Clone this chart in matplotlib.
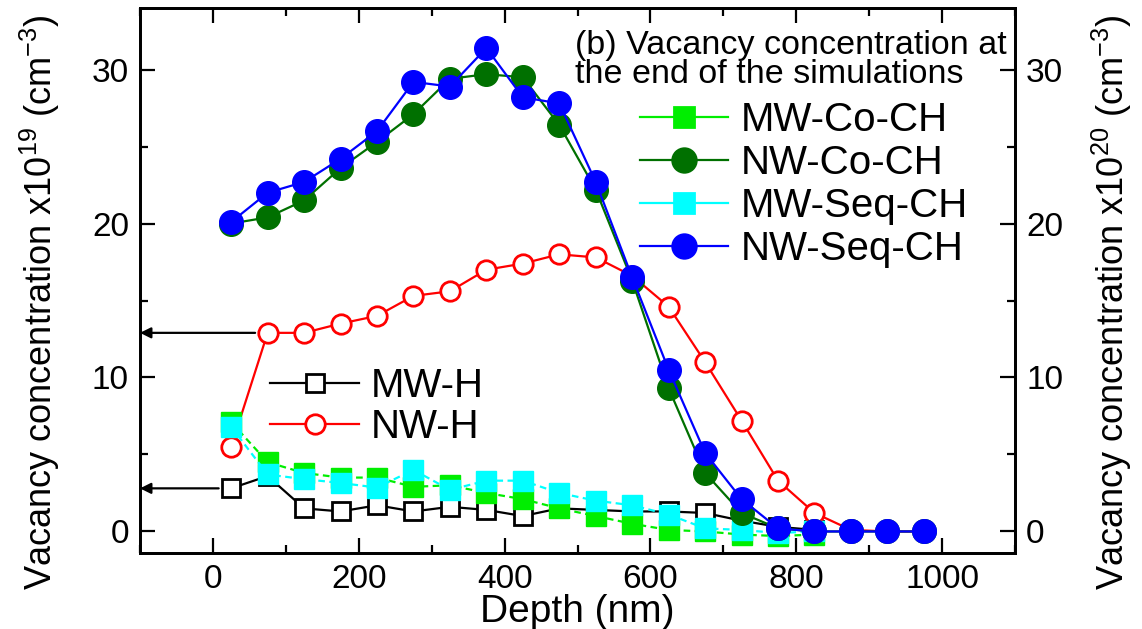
import matplotlib
matplotlib.use("Agg")
import matplotlib.pyplot as plt
from matplotlib.lines import Line2D

plt.rcParams['font.family'] = ['Liberation Sans', 'DejaVu Sans']
plt.rcParams['mathtext.default'] = 'regular'

# depth bins (nm)
depth = [25, 75, 125, 175, 225, 275, 325, 375, 425, 475,
         525, 575, 625, 675, 725, 775, 825, 875, 925, 975]
depth_mw = depth[:17]

# vacancy concentration, x1e19 cm^-3 (MW) / x1e20 cm^-3 (NW)
mw_h = [2.8, 3.6, 1.5, 1.3, 1.7, 1.3, 1.6, 1.4, 1.0, 1.5,
        1.4, 1.3, 1.3, 1.2, 0.7, 0.3, 0.1]
nw_h = [5.5, 12.9, 12.9, 13.5, 14.0, 15.3, 15.6, 17.0, 17.4, 18.0,
        17.8, 16.6, 14.6, 11.0, 7.2, 3.3, 1.2, 0.1, 0.0, 0.0]
mw_co_ch = [7.1, 4.5, 3.8, 3.5, 3.5, 2.9, 3.0, 2.5, 2.1, 1.5,
            1.0, 0.5, 0.1, 0.0, -0.2, -0.3, -0.2]
nw_co_ch = [20.0, 20.4, 21.5, 23.6, 25.3, 27.1, 29.4, 29.7, 29.5, 26.4,
            22.2, 16.3, 9.3, 3.8, 1.2, 0.2, 0.0, 0.0, 0.0, 0.0]
mw_seq_ch = [6.8, 3.7, 3.4, 3.15, 2.85, 4.0, 2.7, 3.3, 3.3, 2.5,
             2.0, 1.7, 1.1, 0.2, 0.1, -0.1, 0.0]
nw_seq_ch = [20.1, 22.0, 22.7, 24.2, 26.0, 29.2, 28.9, 31.4, 28.2, 27.8,
             22.7, 16.5, 10.5, 5.1, 2.1, 0.2, 0.0, 0.0, 0.0, 0.0]

fig = plt.figure(figsize=(11.42, 6.29), dpi=100)
ax = fig.add_axes([0.1226, 0.1208, 0.7662, 0.8665])

lw = 1.6
ax.plot(depth_mw, mw_h, color='black', lw=lw, marker='s', ms=13,
        mfc='white', mec='black', mew=2, zorder=2)
ax.plot(depth, nw_h, color='red', lw=lw, marker='o', ms=14,
        mfc='white', mec='red', mew=2, zorder=3)
ax.plot(depth_mw, mw_co_ch, color='#00ee00', lw=lw, ls=(0, (3, 2)),
        marker='s', ms=15, mfc='#00ee00', mec='#00ee00', zorder=4)
ax.plot(depth_mw, mw_seq_ch, color='cyan', lw=lw, ls=(0, (3, 2)),
        marker='s', ms=15, mfc='cyan', mec='cyan', zorder=5)
ax.plot(depth, nw_co_ch, color='#007000', lw=lw, marker='o', ms=17,
        mfc='#007000', mec='#007000', zorder=6)
ax.plot(depth, nw_seq_ch, color='blue', lw=lw, marker='o', ms=17,
        mfc='blue', mec='blue', zorder=7)

# arrows pointing to the left-hand scale
for xs, ys in [(depth[1], nw_h[1]), (depth[0], mw_h[0])]:
    ax.annotate('', xy=(-100, ys), xytext=(xs, ys),
                arrowprops=dict(arrowstyle='-|>', color='black', lw=1.6,
                                mutation_scale=16, shrinkA=9, shrinkB=0),
                zorder=1)

ax.set_xlim(-100, 1100)
ax.set_ylim(-1.4, 34)
ax.set_xticks(range(0, 1001, 200))
ax.set_xticks(range(-100, 1101, 100), minor=True)
ax.set_yticks([0, 10, 20, 30])
ax.set_yticks([5, 15, 25], minor=True)
ax.tick_params(which='both', direction='in', top=True, labelsize=24, width=1.6)
ax.tick_params(which='major', length=11, pad=8)
ax.tick_params(which='minor', length=6)
ax.tick_params(axis='y', right=False)
for sp in ax.spines.values():
    sp.set_linewidth(2)

ax.set_xlabel('Depth (nm)', fontsize=28, labelpad=-1)
ax.set_ylabel(r'Vacancy concentration x10$^{19}$ (cm$^{-3}$)', fontsize=26)
ax.yaxis.set_label_coords(-0.089, 0.46)

ax2 = ax.twinx()
ax2.set_ylim(ax.get_ylim())
ax2.set_yticks([0, 10, 20, 30])
ax2.set_yticks([5, 15, 25], minor=True)
ax2.tick_params(which='both', direction='in', labelsize=24, width=1.6)
ax2.tick_params(which='major', length=11, pad=8)
ax2.tick_params(which='minor', length=6)
ax2.set_ylabel(r'Vacancy concentration x10$^{20}$ (cm$^{-3}$)', fontsize=26)
ax2.yaxis.set_label_coords(1.086, 0.46)
for sp in ax2.spines.values():
    sp.set_linewidth(2)

ax.text(0.497, 0.959, '(b) Vacancy concentration at\nthe end of the simulations',
        transform=ax.transAxes, fontsize=24.5, va='top', ha='left', linespacing=0.92)

def handle(color, marker, filled=True):
    return Line2D([], [], color=color, lw=lw, marker=marker, ms=15 if marker == 's' else 17,
                  mfc=color if filled else 'white', mec=color, mew=2)

leg1 = ax.legend([handle('#00ee00', 's'), handle('#007000', 'o'),
                  handle('cyan', 's'), handle('blue', 'o')],
                 ['MW-Co-CH', 'NW-Co-CH', 'MW-Seq-CH', 'NW-Seq-CH'],
                 loc='upper left', bbox_to_anchor=(0.571, 0.83), frameon=False,
                 fontsize=29, handlelength=2.2, handletextpad=0.3,
                 labelspacing=0.125, borderpad=0, borderaxespad=0)
ax.add_artist(leg1)

h_mw = Line2D([], [], color='black', lw=lw, marker='s', ms=13, mfc='white', mec='black', mew=2)
h_nw = Line2D([], [], color='red', lw=lw, marker='o', ms=14, mfc='white', mec='red', mew=2)
ax.legend([h_mw, h_nw], ['MW-H', 'NW-H'], loc='upper left',
          bbox_to_anchor=(0.149, 0.342), frameon=False, fontsize=29,
          handlelength=2.2, handletextpad=0.3, labelspacing=0.08,
          borderpad=0, borderaxespad=0)

fig.savefig('out.png', dpi=100)
